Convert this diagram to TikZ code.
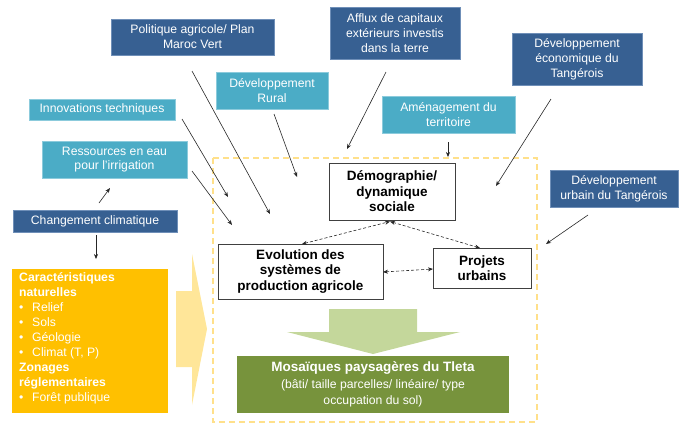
\documentclass[tikz,border=0pt]{standalone}
\usepackage{fontspec}
\setmainfont{Liberation Sans}
\usetikzlibrary{arrows.meta}
\definecolor{dblue}{HTML}{376092}
\definecolor{dblueb}{HTML}{6F8FB8}
\definecolor{teal}{HTML}{4BACC6}
\definecolor{tealb}{HTML}{8CCBDC}
\definecolor{orangebox}{HTML}{FFC000}
\definecolor{lightyel}{HTML}{FFE699}
\definecolor{dashyel}{HTML}{FFE08A}
\definecolor{lgreen}{HTML}{C4D79B}
\definecolor{olive}{HTML}{77933C}
\tikzset{
  base/.style={inner sep=0pt, align=center, text=white, font=\fontsize{12.2}{14.8}\selectfont},
  dbox/.style={base, fill=dblue, draw=dblueb, line width=0.6pt},
  tbox/.style={base, fill=teal, draw=tealb, line width=0.6pt},
  wbox/.style={inner sep=0pt, align=center, fill=white, draw=black!75, line width=0.9pt, font=\fontsize{13.5}{15.5}\selectfont\bfseries},
  arr/.style={-{Stealth[length=5pt,width=4pt]}, line width=0.6pt, black!85},
  darr/.style={{Stealth[length=5pt,width=4pt]}-{Stealth[length=5pt,width=4pt]}, dash pattern=on 3pt off 2pt, line width=0.6pt, black!85},
}
\begin{document}
\begin{tikzpicture}[x=1pt,y=-1pt]
\useasboundingbox (0,0) rectangle (681,424);
% dashed container
\draw[dashyel, line width=1.3pt, dash pattern=on 6pt off 4pt] (213,158) rectangle (537,422);
% light yellow arrow
\fill[lightyel] (176,291) -- (192,291) -- (192,254) -- (207,329) -- (192,405) -- (192,367) -- (176,367) -- cycle;
% green arrow
\fill[lgreen] (329,309) -- (417,309) -- (417,332) -- (460,332) -- (373,354) -- (287,332) -- (329,332) -- cycle;
% top boxes
\node[dbox, minimum width=163, minimum height=36] (pol) at (192.5,37) {Politique agricole/ Plan\\Maroc Vert};
\node[dbox, minimum width=130, minimum height=52] (aff) at (395,33) {Afflux de capitaux\\extérieurs investis\\dans la terre};
\node[dbox, minimum width=130, minimum height=52] (eco) at (577,59) {Développement\\économique du\\Tangérois};
\node[tbox, minimum width=112, minimum height=37] (rur) at (272,90.5) {Développement\\Rural};
\node[tbox, minimum width=146, minimum height=21] (inn) at (102,109.5) {Innovations techniques};
\node[tbox, minimum width=145, minimum height=37] (res) at (114.5,159.5) {Ressources en eau\\pour l’irrigation};
\node[tbox, minimum width=133, minimum height=37] (ame) at (448.5,114.5) {Aménagement du\\territoire};
\node[dbox, minimum width=128, minimum height=37] (urb) at (614,188.5) {Développement\\urbain du Tangérois};
\node[dbox, minimum width=164, minimum height=22] (chg) at (95,221) {Changement climatique};
% orange box
\node[fill=orangebox, minimum width=156, minimum height=144, inner sep=0pt] (car) at (90,341) {};
\node[anchor=north west, inner sep=0pt, text=white, align=left, font=\fontsize{12.2}{15}\selectfont] (cartxt) at (19,272)
 {\textbf{Caractéristiques}\\\textbf{naturelles}\\
  \makebox[13pt][l]{\textbullet}Relief\\
  \makebox[13pt][l]{\textbullet}Sols\\
  \makebox[13pt][l]{\textbullet}Géologie\\
  \makebox[13pt][l]{\textbullet}Climat (T, P)\\
  \textbf{Zonages}\\\textbf{réglementaires}\\
  \makebox[13pt][l]{\textbullet}Forêt publique};
% white boxes
\node[wbox, minimum width=126, minimum height=57] (dem) at (392,191.5) {Démographie/\\dynamique\\sociale};
\node[wbox, minimum width=165, minimum height=55] (evo) at (300.5,271.5) {Evolution des\\systèmes de\\production agricole};
\node[wbox, minimum width=98, minimum height=40] (pro) at (482,268) {Projets\\urbains};
% mosaiques
\node[fill=olive, minimum width=272, minimum height=57, inner sep=0pt, text=white, align=center, font=\fontsize{12.2}{16.5}\selectfont] (mos) at (373,384.5)
 {\textbf{\fontsize{13.5}{16.5}\selectfont Mosaïques paysagères du Tleta}\\(bâti/ taille parcelles/ linéaire/ type\\occupation du sol)};
% end coordinates
\coordinate (e1) at (270,214);
\coordinate (e2) at (228,197);
\coordinate (e3) at (232,225);
\coordinate (e4) at (297,177);
\coordinate (e5) at (347,149);
\coordinate (e6) at (496,186);
\coordinate (e7) at (546,244);
\coordinate (s1) at (192,71);
\coordinate (s2) at (182,119);
\coordinate (s3) at (192,171);
\coordinate (s4) at (274,114);
\coordinate (s5) at (386,72);
\coordinate (s6) at (551,99);
\coordinate (s7) at (588,215);
\coordinate (s8) at (99,203);
\coordinate (e8) at (110,188);
\coordinate (s9) at (96,235);
\coordinate (e9) at (96,259);
\coordinate (s10) at (448,142);
\coordinate (e10) at (448,157);
\draw[arr] (s1) -- (e1);
\draw[arr] (s2) -- (e2);
\draw[arr] (s3) -- (e3);
\draw[arr] (s4) -- (e4);
\draw[arr] (s5) -- (e5);
\draw[arr] (s6) -- (e6);
\draw[arr] (s7) -- (e7);
\draw[arr] (s8) -- (e8);
\draw[arr] (s9) -- (e9);
\draw[arr] (s10) -- (e10);
% dashed double arrows
\coordinate (d0) at (390,221.5);
\coordinate (d1) at (302,244);
\coordinate (d2) at (480,248);
\coordinate (d3) at (383,272);
\coordinate (d4) at (433,269);
\draw[darr] (d1) -- (d0);
\draw[darr] (d0) -- (d2);
\draw[darr] (d3) -- (d4);
\end{tikzpicture}
\end{document}
